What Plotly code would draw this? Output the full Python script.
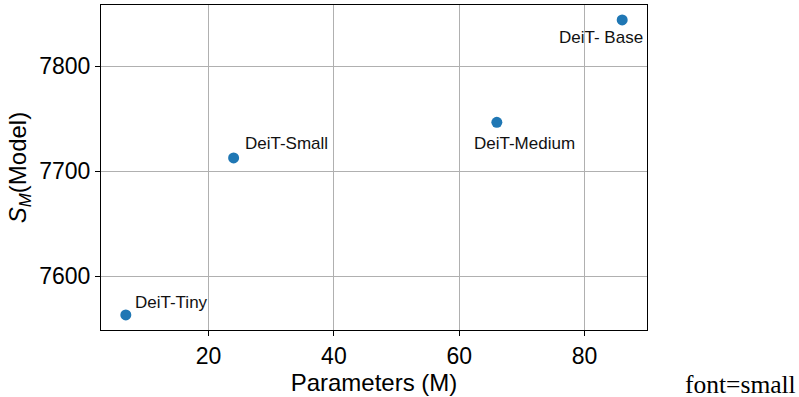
import plotly.graph_objects as go

# Data
models = ["DeiT-Tiny", "DeiT-Small", "DeiT-Medium", "DeiT- Base"]
params_m = [6.8, 24.0, 66.0, 86.0]
sm_scores = [7563, 7712.6, 7746.5, 7844]

# label styling (pixel offsets)
label_style = {
    "DeiT-Tiny": dict(xanchor="left", xshift=7, yshift=12),
    "DeiT-Small": dict(xanchor="left", xshift=9, yshift=14),
    "DeiT-Medium": dict(xanchor="center", xshift=28, yshift=-21),
    "DeiT- Base": dict(xanchor="center", xshift=-21, yshift=-18),
}

fig = go.Figure()
fig.add_trace(go.Scatter(
    x=params_m, y=sm_scores, mode="markers",
    marker=dict(size=11, color="#1f77b4"),
    showlegend=False, hoverinfo="skip",
))

for name, xv, yv in zip(models, params_m, sm_scores):
    st = label_style[name]
    fig.add_annotation(x=xv, y=yv, text=name, showarrow=False,
                       yanchor="middle",
                       font=dict(family="Liberation Sans, Arial", size=17, color="#111"),
                       **st)

fig.add_annotation(xref="paper", yref="paper", x=1.2745, y=-0.169,
                   xanchor="right", yanchor="middle", showarrow=False,
                   borderpad=0, text="font=small",
                   font=dict(family="Liberation Serif, Times New Roman", size=25.5, color="black"))

axis_common = dict(
    showline=True, linecolor="black", linewidth=1, mirror=True,
    ticks="outside", ticklen=5, tickwidth=1, tickcolor="black",
    showgrid=True, gridcolor="#b0b0b0", gridwidth=0.8,
    zeroline=False, automargin=False,
    tickfont=dict(family="Liberation Sans, Arial", size=23, color="black"),
)

fig.update_xaxes(range=[2.84, 89.96], tickvals=[20, 40, 60, 80],
                 title=dict(text="Parameters (M)", standoff=3,
                            font=dict(family="Liberation Sans, Arial", size=24, color="black")),
                 **axis_common)
fig.update_yaxes(range=[7548.7, 7858.2], tickvals=[7600, 7700, 7800],
                 title=dict(text="<i>S</i><sub><i>M</i></sub>(Model)", standoff=5,
                            font=dict(family="Liberation Sans, Arial", size=24, color="black")),
                 **axis_common)

fig.update_layout(
    width=799, height=397,
    margin=dict(l=101, r=152, t=5, b=67),
    plot_bgcolor="white", paper_bgcolor="white",
)

fig.write_html("out.html", config={"displayModeBar": False},
               post_script="document.body.style.margin='0';document.body.style.overflow='hidden';")
